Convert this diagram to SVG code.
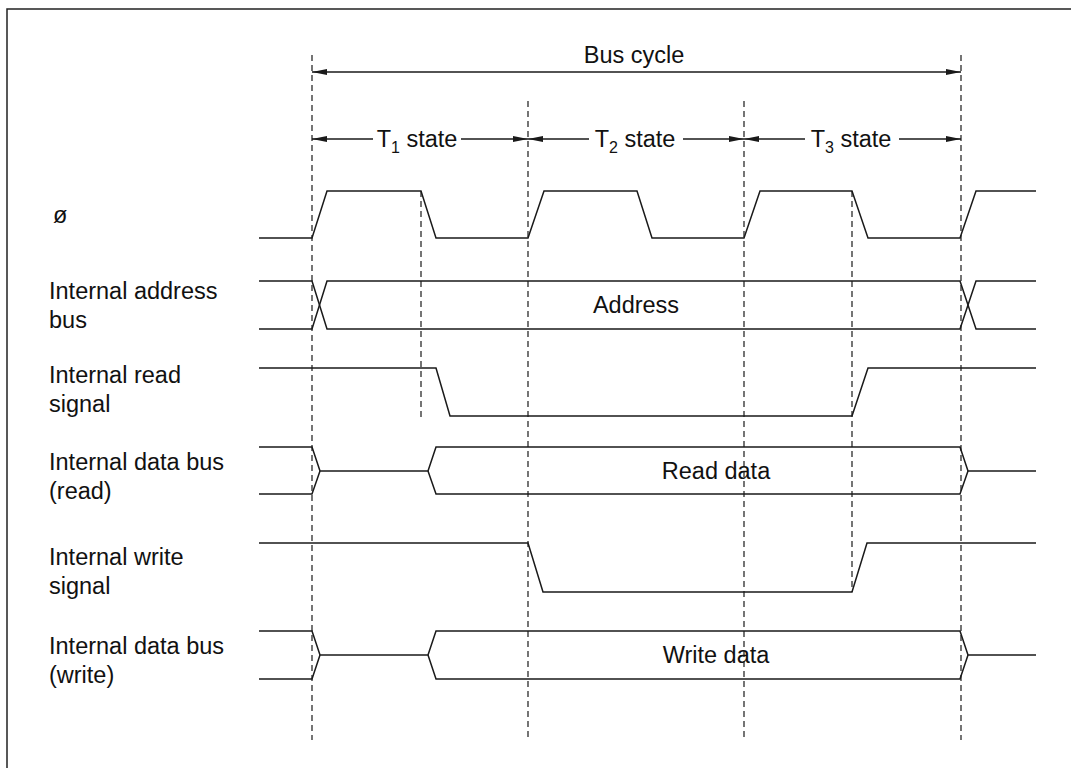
<svg xmlns="http://www.w3.org/2000/svg" width="1071" height="768" viewBox="0 0 1071 768">
<style>
.sig{fill:none;stroke:#1a1a1a;stroke-width:1.5;stroke-linejoin:miter}
.dash{fill:none;stroke:#1a1a1a;stroke-width:1.2;stroke-dasharray:6,4}
.arr{fill:none;stroke:#1a1a1a;stroke-width:1.3}
text{font-family:"Liberation Sans",Arial,sans-serif;font-size:23.5px;fill:#111}
.sub{font-size:16px}
</style>
<defs>
<marker id="ah" viewBox="0 0 15 6" refX="15" refY="3" markerWidth="15" markerHeight="6" markerUnits="userSpaceOnUse" orient="auto-start-reverse">
<path d="M0,0 L15,3 L0,6 Z" fill="#1a1a1a"/>
</marker>
</defs>
<rect x="7" y="9" width="1100" height="800" fill="none" stroke="#222" stroke-width="1.5"/>
<g id="guides">
<line class="dash" x1="312" y1="55" x2="312" y2="740"/>
<line class="dash" x1="528" y1="101" x2="528" y2="740"/>
<line class="dash" x1="744" y1="101" x2="744" y2="740"/>
<line class="dash" x1="961" y1="55" x2="961" y2="740"/>
<line class="dash" x1="421" y1="191" x2="421" y2="419"/>
<line class="dash" x1="852" y1="191" x2="852" y2="592"/>
</g>
<g id="connectors">
<line class="arr" x1="312" y1="72" x2="961" y2="72" marker-start="url(#ah)" marker-end="url(#ah)"/>
<line class="arr" x1="312" y1="139" x2="373" y2="139" marker-start="url(#ah)"/>
<line class="arr" x1="461" y1="139" x2="528" y2="139" marker-end="url(#ah)"/>
<line class="arr" x1="528" y1="139" x2="589" y2="139" marker-start="url(#ah)"/>
<line class="arr" x1="683" y1="139" x2="744" y2="139" marker-end="url(#ah)"/>
<line class="arr" x1="744" y1="139" x2="805" y2="139" marker-start="url(#ah)"/>
<line class="arr" x1="899" y1="139" x2="961" y2="139" marker-end="url(#ah)"/>
</g>
<g id="timing-labels">
<text x="634" y="63" text-anchor="middle">Bus cycle</text>
<text x="417" y="147" text-anchor="middle">T<tspan class="sub" dy="6">1</tspan><tspan dy="-6"> state</tspan></text>
<text x="635" y="147" text-anchor="middle">T<tspan class="sub" dy="6">2</tspan><tspan dy="-6"> state</tspan></text>
<text x="851" y="147" text-anchor="middle">T<tspan class="sub" dy="6">3</tspan><tspan dy="-6"> state</tspan></text>
</g>
<g id="clock">
<text x="53" y="223">ø</text>
<path class="sig" d="M259,238 H312 L327,191 H421 L436,238 H528 L544,191 H637 L652,238 H744 L760,191 H852 L868,238 H960 L976,191 H1036"/>
</g>
<g id="address-bus">
<text x="49" y="299">Internal address</text>
<text x="49" y="328">bus</text>
<path class="sig" d="M259,281 H312 L327,329 H960 L976,281 H1036"/>
<path class="sig" d="M259,329 H312 L327,281 H960 L976,329 H1036"/>
<text x="636" y="313" text-anchor="middle">Address</text>
</g>
<g id="read-signal">
<text x="49" y="383">Internal read</text>
<text x="49" y="412">signal</text>
<path class="sig" d="M259,368 H436 L450,416 H852 L868,368 H1036"/>
</g>
<g id="data-bus-read">
<text x="49" y="470">Internal data bus</text>
<text x="49" y="499">(read)</text>
<path class="sig" d="M259,447 H312 L320,471 H428 L436,447 H960 L968,471 H1036"/>
<path class="sig" d="M259,494 H312 L320,471 M428,471 L436,494 H960 L968,471"/>
<text x="716" y="479" text-anchor="middle">Read data</text>
</g>
<g id="write-signal">
<text x="49" y="565">Internal write</text>
<text x="49" y="594">signal</text>
<path class="sig" d="M259,543 H528 L543,592 H852 L867,543 H1036"/>
</g>
<g id="data-bus-write">
<text x="49" y="654">Internal data bus</text>
<text x="49" y="683">(write)</text>
<path class="sig" d="M259,631 H312 L320,655 H428 L436,631 H960 L968,655 H1036"/>
<path class="sig" d="M259,679 H312 L320,655 M428,655 L436,679 H960 L968,655"/>
<text x="716" y="663" text-anchor="middle">Write data</text>
</g>
</svg>
